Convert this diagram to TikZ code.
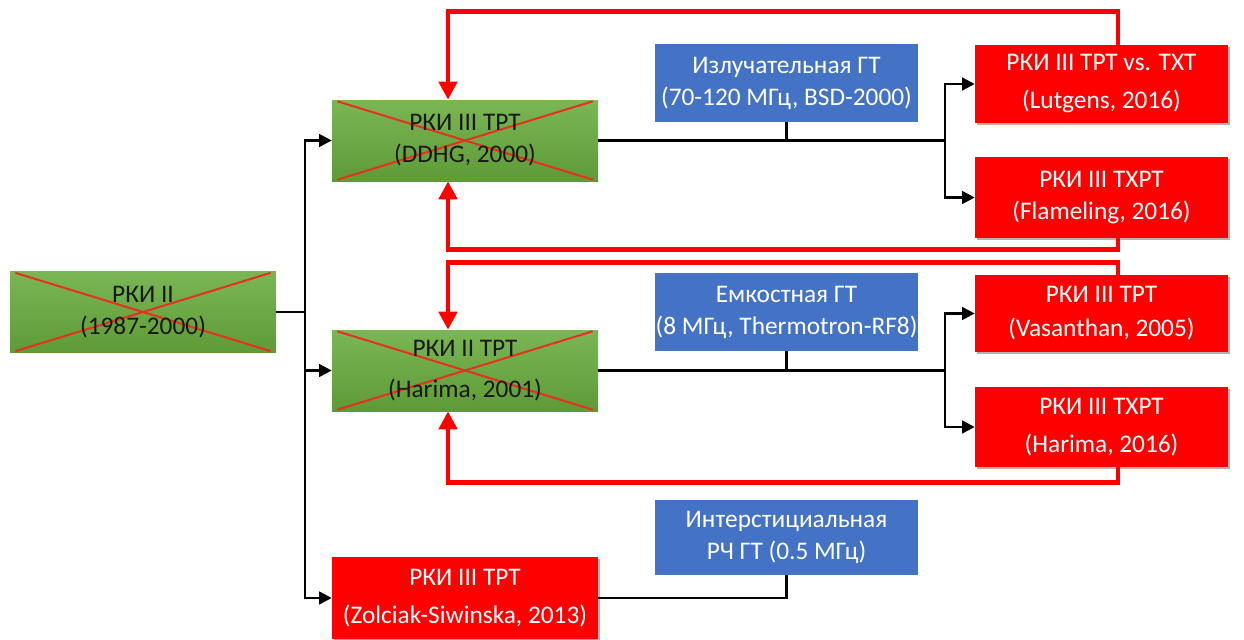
\documentclass[tikz,border=0pt]{standalone}
\usepackage{fontspec}
\setmainfont{Carlito}
\usetikzlibrary{arrows.meta,shadows}
\definecolor{gtop}{HTML}{7AB653}
\definecolor{gbot}{HTML}{5E9A36}
\definecolor{bblue}{HTML}{4472C4}
\definecolor{rred}{HTML}{FF0000}
\definecolor{xred}{HTML}{E8301C}
\begin{document}
\begin{tikzpicture}[x=0.75pt,y=-0.75pt,
  box/.style={rectangle, align=center, inner sep=0pt, draw=none,
    font=\fontsize{19}{24}\selectfont},
  greenbox/.style={box, minimum width=199.5pt, minimum height=60.75pt,
    top color=gtop, bottom color=gbot, text=black!90,
    path picture={
      \draw[xred, line width=1.5pt]
        ([xshift=4pt,yshift=-1pt]path picture bounding box.north west) --
        ([xshift=-4pt,yshift=1pt]path picture bounding box.south east);
      \draw[xred, line width=1.5pt]
        ([xshift=4pt,yshift=1pt]path picture bounding box.south west) --
        ([xshift=-4pt,yshift=-1pt]path picture bounding box.north east);
    }},
  bluebox/.style={box, minimum width=197.25pt, minimum height=58.5pt,
    fill=bblue, text=white},
  redbox/.style={box, minimum width=189.75pt, minimum height=59pt,
    fill=rred, text=white,
    drop shadow={shadow xshift=1.5pt, shadow yshift=-1.5pt, fill=black, opacity=0.3}},
  link/.style={line width=1.9pt, black},
  arr/.style={link, -{Triangle[length=9.5pt,width=9.5pt]}},
  fb/.style={line width=3.6pt, rred, -{Triangle[length=13.5pt,width=13.5pt]}}
]
\useasboundingbox (0,0) rectangle (1244,639);

% left column
\node[greenbox] (rk2) at (143,312) {РКИ II\\(1987-2000)};
\node[greenbox] (ddhg) at (465,140.5) {РКИ III ТРТ\\(DDHG, 2000)};
\node[greenbox] (har) at (465,370.5) {РКИ II ТРТ\\[7pt](Harima, 2001)};
\node[redbox, minimum width=199.5pt, minimum height=61.5pt] (zol) at (465,598)
  {РКИ III ТРТ\\[5pt](Zolciak-Siwinska, 2013)};

% blue boxes
\node[bluebox] (bl1) at (786.5,83) {Излучательная ГТ\\(70-120 МГц, BSD-2000)};
\node[bluebox] (bl2) at (786.5,312) {Емкостная ГТ\\(8 МГц, Thermotron-RF8)};
\node[bluebox, minimum height=56.25pt] (bl3) at (786.5,537.5) {Интерстициальная\\РЧ ГТ (0.5 МГц)};

% right red boxes
\node[redbox, minimum height=58.5pt] (lut) at (1101.5,84) {РКИ III ТРТ vs. ТХТ\\[4.5pt](Lutgens, 2016)};
\node[redbox, minimum height=60.75pt] (flam) at (1101.5,197.5) {РКИ III ТХРТ\\(Flameling, 2016)};
\node[redbox, minimum height=57.75pt] (vas) at (1101.5,313.5) {РКИ III ТРТ\\[1.5pt](Vasanthan, 2005)};
\node[redbox, minimum height=60pt] (h16) at (1101.5,427) {РКИ III ТХРТ\\[5pt](Harima, 2016)};

% helper coordinates
\coordinate (bus) at (305,312);
\coordinate (j1) at (945,140.5);
\coordinate (j2) at (945,370.5);
\coordinate (fx) at (1118,0);
\coordinate (ax) at (448,0);

% left tree
\draw[link] (rk2.east) -- (bus);
\draw[arr] (bus) |- (ddhg.west);
\draw[arr] (bus) |- (har.west);
\draw[arr] (bus) |- (zol.west);

% upper branch
\draw[link] (ddhg.east) -- (j1);
\draw[link] (bl1.south) -- (bl1.south |- j1);
\draw[arr] (j1) |- (lut.west);
\draw[arr] (j1) |- (flam.west);

% middle branch
\draw[link] (har.east) -- (j2);
\draw[link] (bl2.south) -- (bl2.south |- j2);
\draw[arr] (j2) |- (vas.west);
\draw[arr] (j2) |- (h16.west);

% bottom branch
\draw[link] (zol.east) -- (bl3.south |- zol.east) -- (bl3.south);

% feedback loops
\draw[fb] (lut.north -| fx) -- ++(0,-33) -| (ddhg.north -| ax);
\draw[fb] (flam.south -| fx) -- ++(0,11) -| (ddhg.south -| ax);
\draw[fb] (vas.north -| fx) -- ++(0,-12) -| (har.north -| ax);
\draw[fb] (h16.south -| fx) -- ++(0,15) -| (har.south -| ax);
\end{tikzpicture}
\end{document}
